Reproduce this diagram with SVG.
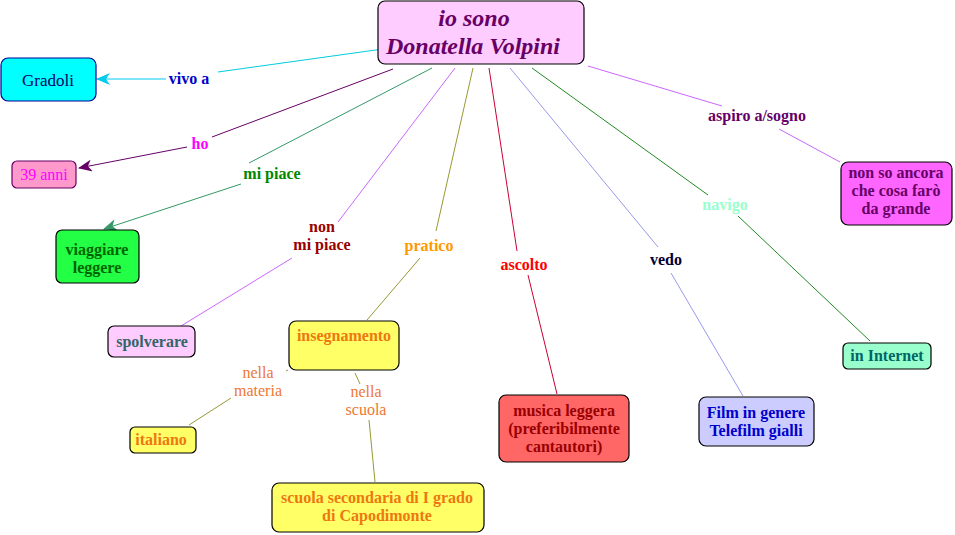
<svg xmlns="http://www.w3.org/2000/svg" width="955" height="535" viewBox="0 0 955 535">
<style>
text{font-family:"Liberation Serif","Times New Roman",serif;text-anchor:middle;font-size:16px;font-weight:bold}
.n{stroke:#000;stroke-width:1.2}
.r{font-weight:normal}
.t{font-size:24px;font-style:italic;fill:#660066}
.c{fill:none;stroke-width:1}
</style>
<defs>
<marker id="aC" markerWidth="14" markerHeight="12" refX="13" refY="6" orient="auto" markerUnits="userSpaceOnUse"><path d="M0,0 L14,6 L0,12 L4,6 Z" fill="#00ccee"/></marker>
<marker id="aP" markerWidth="14" markerHeight="12" refX="13" refY="6" orient="auto" markerUnits="userSpaceOnUse"><path d="M0,0 L14,6 L0,12 L4,6 Z" fill="#660066"/></marker>
<marker id="aG" markerWidth="14" markerHeight="12" refX="13" refY="6" orient="auto" markerUnits="userSpaceOnUse"><path d="M0,0 L14,6 L0,12 L4,6 Z" fill="#339966"/></marker>
</defs>
<rect width="955" height="535" fill="#fff"/>
<g id="connectors">
<path class="c" stroke="#00ccdd" d="M390,48 L218,72"/>
<path class="c" stroke="#00ccee" d="M166,79 L97,79" marker-end="url(#aC)"/>
<text x="189" y="84" fill="#0000cc">vivo a</text>
<path class="c" stroke="#660066" d="M393,69 L212,137"/>
<path class="c" stroke="#660066" d="M187,147 L79,168" marker-end="url(#aP)"/>
<text x="200" y="149" fill="#ff00ff">ho</text>
<path class="c" stroke="#339966" d="M432,68 L249,163"/>
<path class="c" stroke="#339966" d="M241,184 L104,229" marker-end="url(#aG)"/>
<text x="272" y="179" fill="#008800">mi piace</text>
<path class="c" stroke="#cc66ff" d="M455,68 L338,222"/>
<path class="c" stroke="#cc66ff" d="M292,258 L181,326"/>
<text x="322" y="232" fill="#990000">non</text>
<text x="322" y="250" fill="#990000">mi piace</text>
<path class="c" stroke="#999933" d="M473,68 L436,231"/>
<path class="c" stroke="#999933" d="M420,258 L367,320"/>
<text x="429" y="251" fill="#ff9900">pratico</text>
<path class="c" stroke="#cc0033" d="M489,68 L517,251"/>
<path class="c" stroke="#cc0033" d="M528,275 L557,394"/>
<text x="524" y="270" fill="#ff0000">ascolto</text>
<path class="c" stroke="#9999ee" d="M510,68 L658,247"/>
<path class="c" stroke="#9999ee" d="M671,273 L743,396"/>
<text x="666" y="265" fill="#000033">vedo</text>
<path class="c" stroke="#228822" d="M532,68 L708,195"/>
<path class="c" stroke="#228822" d="M738,216 L870,341"/>
<text x="725" y="210" fill="#99ffcc">navigo</text>
<path class="c" stroke="#cc66ff" d="M588,66 L722,106"/>
<path class="c" stroke="#cc66ff" d="M779,129 L840,162"/>
<text x="757" y="121" fill="#660066">aspiro a/sogno</text>
<path class="c" stroke="#999933" d="M286,371 L288,370"/>
<path class="c" stroke="#999933" d="M231,398 L189,425"/>
<text class="r" x="258" y="378" fill="#ee7733">nella</text>
<text class="r" x="258" y="396" fill="#ee7733">materia</text>
<path class="c" stroke="#999933" d="M355,373 L360,384"/>
<path class="c" stroke="#999933" d="M369,420 L375,482"/>
<text class="r" x="366" y="397" fill="#ee7733">nella</text>
<text class="r" x="366" y="415" fill="#ee7733">scuola</text>
</g>
<g id="root">
<rect class="n" x="378" y="1" width="206" height="63" rx="7" fill="#ffccff"/>
<text class="t" x="474" y="26">io sono</text>
<text class="t" x="473" y="54">Donatella Volpini</text>
</g>
<g id="gradoli">
<rect x="1" y="58" width="95" height="43" rx="7" fill="#00ffff" stroke="#000099" stroke-width="1.2"/>
<text class="r" x="48" y="86" fill="#000066" style="font-size:17px">Gradoli</text>
</g>
<g id="anni">
<rect x="12" y="161" width="64" height="27" rx="5" fill="#ff99cc" stroke="#660066" stroke-width="1.2"/>
<text class="r" x="44" y="180" fill="#ff00ff">39 anni</text>
</g>
<g id="viaggiare">
<rect class="n" x="56" y="230" width="83" height="53" rx="6" fill="#22ff44"/>
<text x="97" y="255" fill="#006600">viaggiare</text>
<text x="97" y="273" fill="#006600">leggere</text>
</g>
<g id="spolverare">
<rect class="n" x="108" y="326" width="87" height="31" rx="6" fill="#ffccff"/>
<text x="152" y="347" fill="#336666">spolverare</text>
</g>
<g id="insegnamento">
<rect class="n" x="289" y="321" width="110" height="49" rx="7" fill="#ffff66"/>
<text x="344" y="341" fill="#ee7711">insegnamento</text>
</g>
<g id="italiano">
<rect class="n" x="130" y="427" width="66" height="26" rx="5" fill="#ffff66"/>
<text x="161" y="445" fill="#ee7711">italiano</text>
</g>
<g id="scuola">
<rect class="n" x="272" y="483" width="212" height="49" rx="7" fill="#ffff66"/>
<text x="377" y="503" fill="#ee7711">scuola secondaria di I grado</text>
<text x="377" y="521" fill="#ee7711">di Capodimonte</text>
</g>
<g id="musica">
<rect class="n" x="499" y="395" width="130" height="67" rx="7" fill="#ff6666"/>
<text x="564" y="416" fill="#990000">musica leggera</text>
<text x="564" y="434" fill="#990000">(preferibilmente</text>
<text x="564" y="452" fill="#990000">cantautori)</text>
</g>
<g id="film">
<rect class="n" x="699" y="397" width="115" height="49" rx="7" fill="#ccccff"/>
<text x="756" y="418" fill="#0000cc">Film in genere</text>
<text x="756" y="436" fill="#0000cc">Telefilm gialli</text>
</g>
<g id="internet">
<rect class="n" x="843" y="343" width="88" height="26" rx="5" fill="#99ffcc"/>
<text x="887" y="361" fill="#006666">in Internet</text>
</g>
<g id="sogno">
<rect class="n" x="841" y="162" width="111" height="63" rx="7" fill="#ff66ff"/>
<text x="896" y="178" fill="#660066">non so ancora</text>
<text x="896" y="196" fill="#660066">che cosa farò</text>
<text x="896" y="214" fill="#660066">da grande</text>
</g>
</svg>
